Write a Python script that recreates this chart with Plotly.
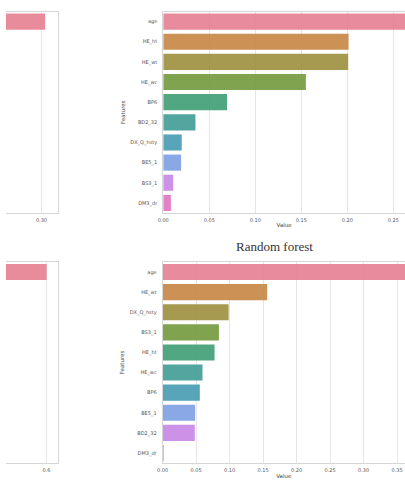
import colorsys
import plotly.graph_objects as go

# ---- data ----
tl_features = ["age"]
tl_values = [0.304]

tr_features = ["age", "HE_ht", "HE_wt", "HE_wc", "BP6", "BD2_32", "DX_Q_hsty", "BE5_1", "BS3_1", "DM3_dr"]
tr_values = [0.275, 0.2014, 0.201, 0.155, 0.0693, 0.035, 0.0201, 0.0194, 0.0108, 0.0083]

bl_features = ["age"]
bl_values = [0.601]

br_features = ["age", "HE_wt", "DX_Q_hsty", "BS3_1", "HE_ht", "HE_wc", "BP6", "BE5_1", "BD2_32", "DM3_dr"]
br_values = [0.38, 0.156, 0.0985, 0.084, 0.0775, 0.0595, 0.0555, 0.0485, 0.048, 0.0004]

title_text = "Random forest"

# ---- palette (seaborn husl, desaturated 0.75) ----
husl10 = ["#f77189", "#dc8932", "#ae9d31", "#77ab31", "#33b07a",
          "#36ada4", "#38a9c5", "#6e9cf4", "#cc7af4", "#f565cc"]


def desat(hexc, prop=0.75):
    r, g, b = (int(hexc[i:i + 2], 16) / 255 for i in (1, 3, 5))
    h, l, s = colorsys.rgb_to_hls(r, g, b)
    r, g, b = colorsys.hls_to_rgb(h, l, s * prop)
    return "rgb(%d,%d,%d)" % (round(r * 255), round(g * 255), round(b * 255))


pal = [desat(c) for c in husl10]

W, H = 405, 486
fig = go.Figure()

GRID = "#e6e6e6"
FRAME = "#d6d6d6"
TICKC = "#555555"
TF = dict(family="DejaVu Sans", size=5, color=TICKC)


def add_panel(idx, feats, vals, xdom, ydom, xrange, tickvals, ticktext, show_y, yside, xtitle):
    xa = "x" if idx == 1 else "x%d" % idx
    ya = "y" if idx == 1 else "y%d" % idx
    fig.add_trace(go.Bar(
        x=vals, y=feats, orientation="h",
        marker=dict(color=pal[:len(feats)], line=dict(width=0)),
        opacity=0.92,
        width=0.8, xaxis=xa, yaxis=ya, showlegend=False,
    ))
    xk = "xaxis" if idx == 1 else "xaxis%d" % idx
    yk = "yaxis" if idx == 1 else "yaxis%d" % idx
    fig.layout[xk] = dict(
        domain=xdom, anchor=ya, range=xrange,
        tickvals=tickvals, ticktext=ticktext,
        showgrid=True, gridcolor=GRID, gridwidth=1,
        showline=True, linecolor=FRAME, linewidth=1, mirror=True,
        zeroline=False, ticks="", tickfont=TF, ticklabelstandoff=2,
        title=dict(text=xtitle, font=dict(family="DejaVu Sans", size=5.5, color="#444"), standoff=1),
    )
    fig.layout[yk] = dict(
        domain=ydom, anchor=xa, type="category",
        categoryorder="array", categoryarray=feats,
        range=[len(feats) - 0.5 if len(feats) > 1 else 9.5, -0.5],
        showgrid=False, showline=True, linecolor=FRAME, linewidth=1, mirror=False,
        side=yside, zeroline=False, ticks="",
        showticklabels=show_y, tickfont=TF, ticklabelstandoff=4,
        title=dict(text="Features" if show_y else "",
                   font=dict(family="DejaVu Sans", size=5.5, color="#444"), standoff=4),
    )


top_dom = [1 - 213 / H, 1 - 11.5 / H]
bot_dom = [1 - 463 / H, 1 - 262 / H]

# top-left (cropped)
s_tl = 934.0
add_panel(1, tl_features, tl_values, [0, 53 / W],
          top_dom, [0.30 - 36 / s_tl, 0.30 + 17 / s_tl], [0.30], ["0.30"], False, "right", "")
# top-right
s_tr = 934.0
add_panel(2, tr_features, tr_values, [159.6 / W, 1], top_dom,
          [0, (W - 159.6) / s_tr],
          [0, 0.05, 0.10, 0.15, 0.20, 0.25], ["0.00", "0.05", "0.10", "0.15", "0.20", "0.25"],
          True, "left", "Value")
# bottom-left (cropped)
s_bl = 300.0
add_panel(3, bl_features, bl_values, [0, 53 / W],
          bot_dom, [0.6 - 41 / s_bl, 0.6 + 12 / s_bl], [0.6], ["0.6"], False, "right", "")
# bottom-right
s_br = 680.0
add_panel(4, br_features, br_values, [159 / W, 1], bot_dom,
          [0, (W - 159) / s_br],
          [0, 0.05, 0.10, 0.15, 0.20, 0.25, 0.30, 0.35],
          ["0.00", "0.05", "0.10", "0.15", "0.20", "0.25", "0.30", "0.35"],
          True, "left", "Value")

fig.add_annotation(
    text=title_text, xref="paper", yref="paper",
    x=273 / W, y=1 - 246 / H, xanchor="center", yanchor="middle",
    showarrow=False,
    font=dict(family="Liberation Serif", size=13, color="#333333"),
)

fig.update_layout(
    width=W, height=H, margin=dict(l=0, r=0, t=0, b=0),
    paper_bgcolor="white", plot_bgcolor="white", bargap=0.2,
)

fig.write_html("out.html")
